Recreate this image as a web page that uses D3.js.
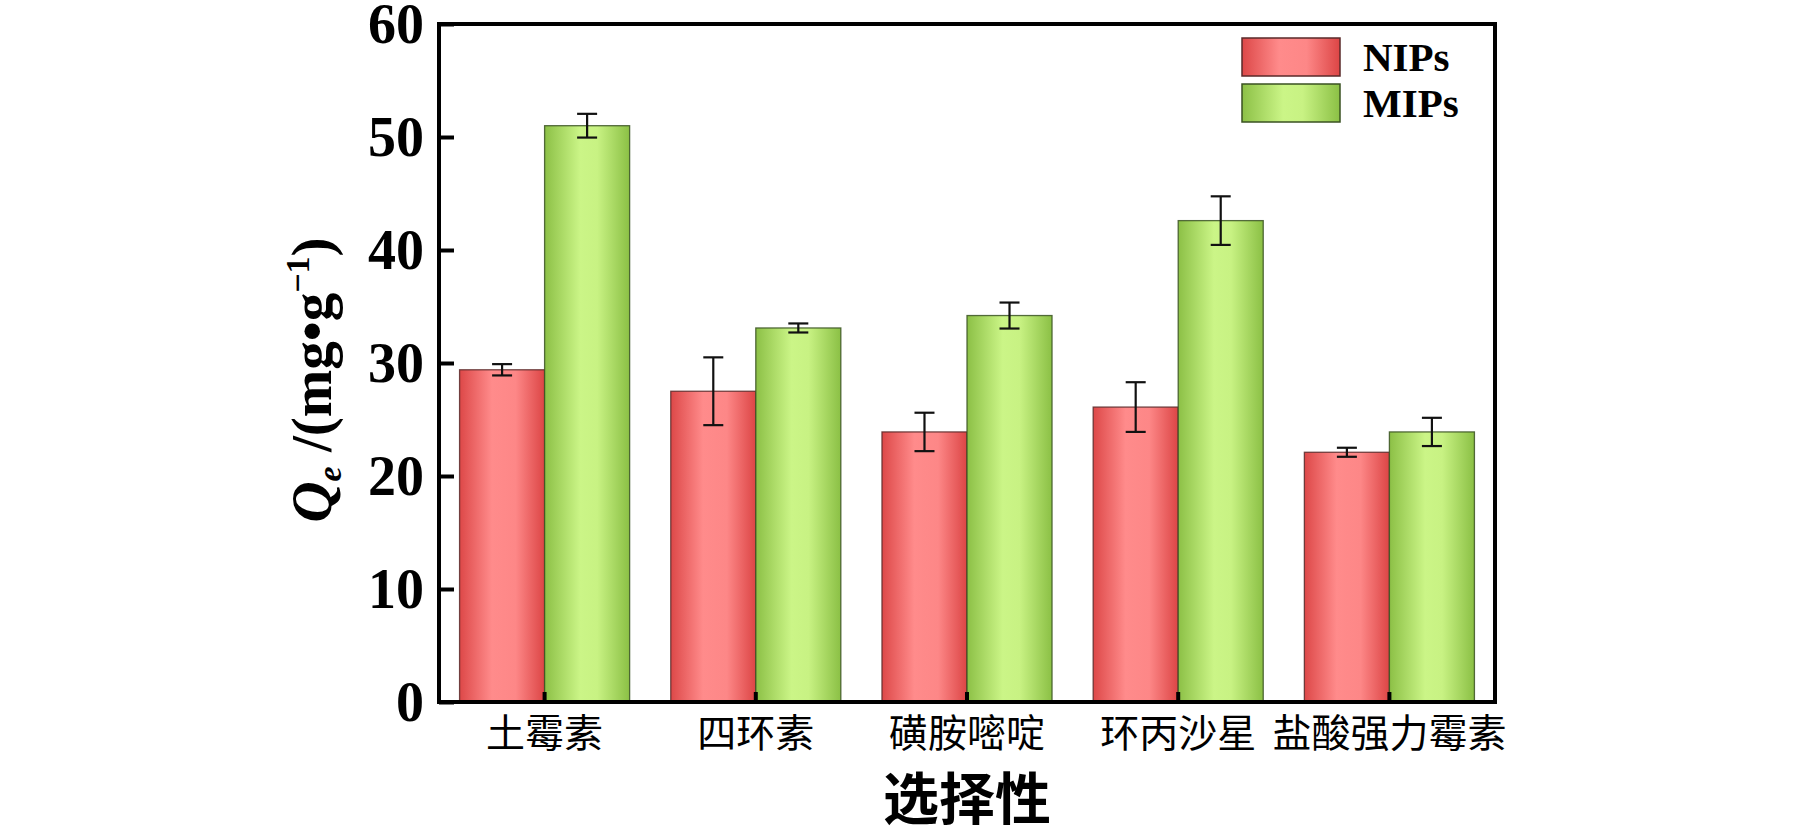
<!DOCTYPE html>
<html>
<head>
<meta charset="utf-8">
<script src="https://cdn.jsdelivr.net/npm/d3@7"></script>
<style>
  html, body { margin: 0; padding: 0; background: #fff; }
  svg { display: block; }
</style>
</head>
<body>
<svg id="chart" width="1819" height="827"></svg>
<script>
// ---- data ----
const categories = ["土霉素", "四环素", "磺胺嘧啶", "环丙沙星", "盐酸强力霉素"];
const seriesNames = ["NIPs", "MIPs"];
const nipsValues = [29.4, 27.5, 23.9, 26.1, 22.1];
const nipsErrors = [0.5, 3.0, 1.7, 2.2, 0.4];
const mipsValues = [51.0, 33.1, 34.2, 42.6, 23.9];
const mipsErrors = [1.05, 0.4, 1.15, 2.15, 1.25];
const yTicks = [0, 10, 20, 30, 40, 50, 60];
const xTitle = "选择性";

// ---- layout ----
const plot = { left: 439, right: 1495, top: 24, bottom: 702 };
const serif = "'Liberation Serif', 'Times New Roman', serif";
const cjk = "'Noto Sans CJK SC', sans-serif";

const svg = d3.select("#chart");

const x = d3.scaleBand().domain(categories).range([plot.left, plot.right]).paddingInner(0).paddingOuter(0);
const x1 = d3.scaleBand().domain(seriesNames).range([0, x.bandwidth()]).paddingInner(0).paddingOuter(0.242);
const y = d3.scaleLinear().domain([0, 60]).range([plot.bottom, plot.top]);

// gradients
const defs = svg.append("defs");
const grads = {
  NIPs: [[0, "#dd4848"], [0.38, "#ff8b8b"], [0.66, "#fd8787"], [1, "#dc4545"]],
  MIPs: [[0, "#8cc046"], [0.42, "#cbf587"], [0.62, "#c8f283"], [1, "#8bc045"]]
};
Object.entries(grads).forEach(([k, stops]) => {
  const g = defs.append("linearGradient").attr("id", "g-" + k)
    .attr("x1", "0%").attr("x2", "100%").attr("y1", "0%").attr("y2", "0%");
  stops.forEach(([o, c]) => g.append("stop").attr("offset", o).attr("stop-color", c));
});
const strokeColor = { NIPs: "#5a2a2a", MIPs: "#3a5222" };

const rows = categories.map((c, i) => ({
  cat: c,
  items: [
    { s: "NIPs", v: nipsValues[i], e: nipsErrors[i] },
    { s: "MIPs", v: mipsValues[i], e: mipsErrors[i] }
  ]
}));

const groups = svg.append("g").selectAll("g").data(rows).join("g")
  .attr("transform", d => `translate(${x(d.cat)},0)`);

groups.selectAll("rect").data(d => d.items).join("rect")
  .attr("x", d => x1(d.s))
  .attr("y", d => y(d.v))
  .attr("width", x1.bandwidth())
  .attr("height", d => y(0) - y(d.v))
  .attr("fill", d => `url(#g-${d.s})`)
  .attr("stroke", d => strokeColor[d.s])
  .attr("stroke-opacity", 0.85)
  .attr("stroke-width", 1.3);

// error bars
const eb = groups.selectAll("g.err").data(d => d.items).join("g").attr("class", "err")
  .attr("stroke", "#111").attr("stroke-width", 2.2);
const capW = 10;
const cx = d => x1(d.s) + x1.bandwidth() / 2;
eb.append("line")
  .attr("x1", cx).attr("x2", cx)
  .attr("y1", d => y(d.v + d.e)).attr("y2", d => y(d.v - d.e));
eb.append("line")
  .attr("x1", d => cx(d) - capW).attr("x2", d => cx(d) + capW)
  .attr("y1", d => y(d.v + d.e)).attr("y2", d => y(d.v + d.e));
eb.append("line")
  .attr("x1", d => cx(d) - capW).attr("x2", d => cx(d) + capW)
  .attr("y1", d => y(d.v - d.e)).attr("y2", d => y(d.v - d.e));

// y axis
const yAxis = svg.append("g").attr("transform", `translate(${plot.left},0)`)
  .call(d3.axisLeft(y).tickValues(yTicks).tickFormat(d3.format("d")).tickSizeInner(-15).tickSizeOuter(0).tickPadding(15));
yAxis.select(".domain").remove();
yAxis.selectAll(".tick line").attr("stroke", "#000").attr("stroke-width", 4);
yAxis.selectAll(".tick text")
  .attr("font-family", serif).attr("font-weight", "bold").attr("font-size", 56)
  .attr("fill", "#000").attr("dy", "0.33em");

// x axis
const xAxis = svg.append("g").attr("transform", `translate(0,${plot.bottom})`)
  .call(d3.axisBottom(x).tickSizeInner(-10).tickSizeOuter(0).tickPadding(0));
xAxis.select(".domain").remove();
xAxis.selectAll(".tick line").attr("stroke", "#000").attr("stroke-width", 4);
xAxis.selectAll(".tick text")
  .attr("font-family", cjk).attr("font-size", 39).attr("fill", "#000")
  .attr("y", 31).attr("dy", "0.36em");

// frame
svg.append("rect")
  .attr("x", plot.left).attr("y", plot.top)
  .attr("width", plot.right - plot.left).attr("height", plot.bottom - plot.top)
  .attr("fill", "none").attr("stroke", "#000").attr("stroke-width", 4);

// x title
svg.append("text")
  .attr("x", (plot.left + plot.right) / 2).attr("y", 794)
  .attr("text-anchor", "middle").attr("dominant-baseline", "central")
  .attr("font-family", cjk).attr("font-weight", "bold").attr("font-size", 56)
  .attr("fill", "#000").text(xTitle);

// y title
const yt = svg.append("text")
  .attr("transform", "translate(331,380) rotate(-90)")
  .attr("text-anchor", "middle")
  .attr("font-family", serif).attr("font-weight", "bold").attr("font-size", 57).attr("fill", "#000");
yt.append("tspan").attr("font-style", "italic").text("Q");
yt.append("tspan").attr("font-style", "italic").attr("font-size", 34).attr("dy", 10).text("e");
yt.append("tspan").attr("dy", -10).text(" /(mg");
yt.append("tspan").text("•");
yt.append("tspan").text("g");
yt.append("tspan").attr("font-size", 34).attr("dy", -22).text("−1");
yt.append("tspan").attr("dy", 22).text(")");

// legend
const legend = svg.append("g");
const legItems = seriesNames.map((s, i) => ({ s, i }));
legend.selectAll("rect").data(legItems).join("rect")
  .attr("x", 1242).attr("y", d => 38 + d.i * 46)
  .attr("width", 98).attr("height", 38)
  .attr("fill", d => `url(#g-${d.s})`)
  .attr("stroke", d => strokeColor[d.s]).attr("stroke-width", 1.5);
legend.selectAll("text").data(legItems).join("text")
  .attr("x", 1363).attr("y", d => 57 + d.i * 46)
  .attr("dy", "0.35em")
  .attr("font-family", serif).attr("font-weight", "bold").attr("font-size", 41)
  .attr("fill", "#000").text(d => d.s);
</script>
</body>
</html>
